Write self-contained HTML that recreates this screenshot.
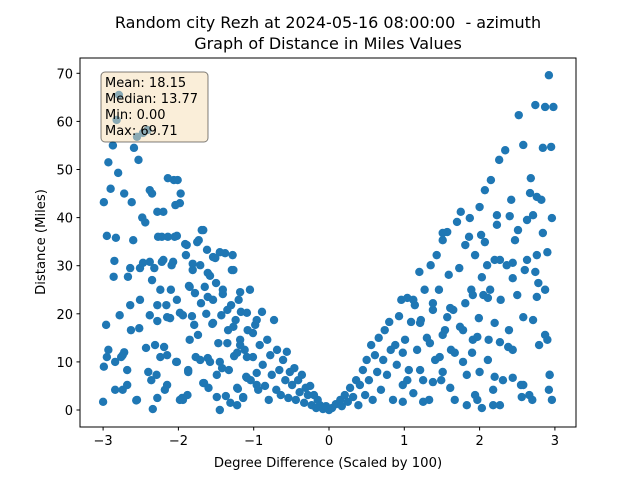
<!DOCTYPE html>
<html><head><meta charset="utf-8"><style>
html,body{margin:0;padding:0;background:#fff;}
svg text{font-family:"DejaVu Sans","Liberation Sans",sans-serif;}
</style></head><body>
<svg id="chart" width="640" height="480" viewBox="0 0 640 480" xmlns="http://www.w3.org/2000/svg">
<rect width="640" height="480" fill="#fff"/>
<text x="328" y="28" font-size="16" text-anchor="middle" xml:space="preserve">Random city Rezh at 2024-05-16 08:00:00  - azimuth</text>
<text x="328" y="49" font-size="16" text-anchor="middle">Graph of Distance in Miles Values</text>
<g id="marks"></g>
<rect x="80" y="58" width="496" height="369" fill="none" stroke="#000" stroke-width="1"/>
<g id="xticks"></g>
<g id="yticks"></g>
<text x="328" y="467" font-size="13.2" text-anchor="middle">Degree Difference (Scaled by 100)</text>
<text transform="translate(45,242) rotate(-90)" font-size="13.2" text-anchor="middle">Distance (Miles)</text>
<g>
<rect x="101" y="72" width="107" height="70" rx="4" fill="#f5deb3" fill-opacity="0.5" stroke="#000" stroke-opacity="0.5"/>
<text x="105" y="87" font-size="13">Mean: 18.15</text>
<text x="105" y="103" font-size="13">Median: 13.77</text>
<text x="105" y="119" font-size="13">Min: 0.00</text>
<text x="105" y="135" font-size="13">Max: 69.71</text>
</g>
</svg>
<script>
const xValues=[-3.0,-2.99,-2.96,-2.95,-2.99,-2.93,-2.9,-2.87,-2.86,-2.85,-2.83,-2.82,-2.79,-2.8,-2.78,-2.76,-2.72,-2.72,-2.67,-2.64,-2.63,-2.62,-2.59,-2.56,-2.55,-2.52,-2.51,-2.48,-2.47,-2.44,-2.43,-2.4,-2.38,-2.35,-2.34,-2.32,-2.31,-2.28,-2.27,-2.24,-2.22,-2.2,-2.19,-2.16,-2.14,-2.11,-2.09,-2.06,-2.03,-2.02,-2.01,-1.98,-1.97,-1.94,-1.91,-1.9,-1.87,-1.86,-1.85,-1.82,-1.81,-1.78,-1.77,-1.74,-1.71,-1.7,-1.67,-1.66,-1.63,-1.61,-1.58,-1.55,-1.54,-1.51,-1.49,-1.47,-1.45,-1.43,-1.41,-1.38,-1.37,-1.34,-1.33,-1.3,-1.29,-1.26,-1.24,-1.21,-1.18,-1.17,-1.14,-1.12,-1.1,-1.08,-1.05,-1.04,-1.01,-0.98,-0.96,-0.94,-0.92,-0.89,-0.88,-0.85,-0.82,-0.8,-0.78,-0.76,-0.73,-0.7,-0.69,-0.66,-0.64,-0.61,-0.58,-0.56,-0.54,-0.52,-0.49,-0.46,-0.44,-0.41,-0.39,-0.36,-0.33,-0.31,-0.28,-0.25,-0.23,-0.2,-0.17,-0.15,-0.12,-0.08,-0.04,0,
0.04,0.09,0.15,0.17,0.21,0.25,0.28,0.32,0.36,0.39,0.41,0.45,0.48,0.5,0.53,0.56,0.58,0.61,0.64,0.66,0.69,0.72,0.74,0.77,0.8,0.82,0.85,0.88,0.9,0.93,0.96,0.98,1.01,1.04,1.06,1.09,1.12,1.14,1.17,1.2,1.22,1.25,1.27,1.3,1.33,1.35,1.38,1.41,1.43,1.46,1.49,1.51,1.54,1.57,1.59,1.62,1.65,1.67,1.7,1.73,1.75,1.78,1.81,1.83,1.86,1.89,1.91,1.94,1.97,1.99,2.02,2.05,2.07,2.1,2.12,2.15,2.18,2.2,2.23,2.26,2.28,2.31,2.34,2.36,2.39,2.42,2.44,2.47,2.5,2.52,2.55,2.58,2.6,2.63,2.66,2.68,2.71,2.74,2.76,2.79,2.82,2.84,2.87,2.87,2.9,2.92,2.92,2.95,2.96,2.96,2.98,2.93,
-2.93,-2.84,-2.74,-2.68,-2.6,-2.53,-2.41,-2.36,-2.29,-2.18,-2.15,-2.1,-2.04,-1.95,-1.88,-1.79,-1.73,-1.62,-1.6,-1.5,-1.42,-1.35,-1.28,-1.22,-1.2,
1.51,1.87,2.0,2.23,2.4,2.51,2.71,2.76,2.67,2.84,2.07,2.27,2.44,2.63,2.9,2.03,2.44,2.74,2.78,2.14,1.91,1.61,1.38,1.12,1.21,1.57,1.81,2.11,2.2,2.58,2.76,1.74,1.51,1.97,2.27,2.38,2.87,1.34,1.67,1.9,2.11,1.47,1.78,0.98,2.0,2.2,2.44,2.58,2.93,1.61,1.38,2.18,2.56,2.7,1.94,1.83,2.03,2.27,1.25,0.98,1.21,1.51,1.04,
-2.14,-2.38,-1.98,-2.28,-2.22,-2.05,-1.89,-1.75,-1.69,-1.45,-1.54,-1.27,-1.81,-1.61,-2.07,-2.2,-2.47,-2.35,-1.85,-1.65,-1.41,-1.18,-1.61,-2.02,-2.51,-2.28,-2.64,-2.38,-2.15,-1.98,-1.54,-1.27,-1.09,-0.96,-1.01,-1.35,-1.18,-1.71,-1.58,-1.22,-1.09,-2.74,-2.95,-2.68,-2.24,-2.02,-1.87,-1.49,-1.09,-0.96,-1.67,-1.22,-2.84,-2.15,-2.55,-2.28,-1.94,-1.45,-1.31,-1.14];
const yValues=[1.7,9,17.7,36.2,43.2,51.5,46,55,27.7,31,35.8,60.3,65.5,49.3,19.7,11,45,12,27.7,29.5,16.6,43.2,54.5,2,56.8,17,29.5,40,57.6,39,12.9,7.9,30.8,45,0.2,29.5,13.5,18.5,36,25,30.8,41.2,13.1,21.8,36,19.1,30.1,47.8,10,36.2,47.8,2.1,45,19.7,34.5,32.2,8.3,25.8,14.6,19.5,30.4,24.3,11,15.6,30.1,22.2,37.4,5.6,20,10.8,27.9,17.9,22.9,31.6,2.7,13.9,10,19.7,24.1,32.6,2.9,16.6,8.3,21.8,29.1,11.2,18.7,4.4,14.6,20.4,2.5,12.5,6.9,16.6,25,6.2,11,17.7,7.7,4.2,13.5,20.4,9.4,5,14.6,2.1,11.4,7.3,18.7,4.2,12.5,8.3,3.1,10.4,6.2,12.1,2.5,7.9,5.2,8.7,2.1,6.2,3.7,7.3,1.5,4.6,3.1,5,1,3.1,0.4,2.1,1,0.2,0.8,0,
0.4,1.2,2.1,0.8,3.1,1.7,4.6,2.7,6.2,1,5.2,8.3,3.1,10.4,6.2,13.5,2.1,11.4,7.9,15,4.2,10.4,16.6,7.3,18.3,12.5,2.1,13.5,9.4,19.5,22.9,5.2,14.6,23.3,8.3,18.3,3.5,21.8,12.5,28.7,18.7,6.2,25,15,2.1,30.1,20.8,10.4,32.2,25,6.2,35.3,16.6,37,28.1,12.5,20.8,2.1,39.1,29.5,41.2,16.6,34.3,7.3,36,25,14.6,32.2,2.1,19.1,36.4,23.9,45.7,30.1,14.6,47.8,1,31.2,40.5,52,22.9,6.2,54,30.1,16.6,43.7,12.5,35.3,23.9,61.3,5.2,55.1,29.1,39.5,3.1,48.2,18.7,63.4,32.2,13.5,43.7,54.5,63,25,14.6,69.6,4.2,54.7,39.9,2.1,63,7.3,
12.5,10,4.2,5.2,35.3,52,58.2,6.2,7.3,4.2,11.4,25,42.6,2.5,3.1,17.7,35.3,33.3,4.6,26.4,8.7,20.8,32.2,1,22.9,
36.8,39.9,42.2,38.5,40.3,37.4,40.5,44.3,45.1,36.8,34.9,31.2,30.6,31.2,32.8,27.6,27.4,28.7,26.4,25,23.9,21.2,22.2,22.9,18.1,19.3,22.2,23.3,18.1,19.3,23.5,17.3,15.6,15.2,14.1,13.1,15.6,13.9,11.9,11.9,10.4,11,10,11.9,7.9,6.9,6.7,5.2,7.3,4.6,5.8,4.2,2.7,2.1,3.1,1,0.4,1,1.7,1.7,8.3,7.9,6.2,
48.2,45.7,43,41.2,36,36,34.3,34.9,37.4,32.8,31.8,29.1,29.1,28.5,30.8,31.2,30.6,27,25.6,25.6,25,24.5,23.5,22.9,22.9,21.8,21.8,19.7,19.3,20.2,18.1,17.3,20.2,18.7,16,13.9,13.5,10.4,10,11.9,11,11.4,11,8.3,11,10,7.9,7.3,6.7,5.2,5.6,4.6,4.2,5.2,2.1,2.5,2.1,0,1.5,2.7];
const xTickLabels=["−3","−2","−1","0","1","2","3"];
const xTickValues=[-3,-2,-1,0,1,2,3];
const yTickValues=[0,10,20,30,40,50,60,70];
const NS="http://www.w3.org/2000/svg";
function sx(v){return 329+v*75.3;}
function sy(v){return 410-v*4.81;}
const marks=document.getElementById('marks');
for(let i=0;i<xValues.length;i++){
  const c=document.createElementNS(NS,'circle');
  c.setAttribute('cx',sx(xValues[i]));c.setAttribute('cy',sy(yValues[i]));
  c.setAttribute('r',4.2);c.setAttribute('fill','#1f77b4');
  
  
  marks.appendChild(c);
}
const xg=document.getElementById('xticks');
xTickValues.forEach((v,i)=>{
  const l=document.createElementNS(NS,'line');
  l.setAttribute('x1',sx(v));l.setAttribute('x2',sx(v));l.setAttribute('y1',427);l.setAttribute('y2',430.5);l.setAttribute('stroke','#000');
  
  
  xg.appendChild(l);
  const t=document.createElementNS(NS,'text');
  t.setAttribute('x',sx(v));t.setAttribute('y',445);t.setAttribute('font-size','13');t.setAttribute('text-anchor','middle');
  t.textContent=xTickLabels[i];
  
  
  xg.appendChild(t);
});
const yg=document.getElementById('yticks');
yTickValues.forEach(v=>{
  const l=document.createElementNS(NS,'line');
  l.setAttribute('x1',76.5);l.setAttribute('x2',80);l.setAttribute('y1',sy(v));l.setAttribute('y2',sy(v));l.setAttribute('stroke','#000');
  
  
  yg.appendChild(l);
  const t=document.createElementNS(NS,'text');
  t.setAttribute('x',73);t.setAttribute('y',sy(v)+5);t.setAttribute('font-size','13');t.setAttribute('text-anchor','end');
  t.textContent=String(v);
  
  
  yg.appendChild(t);
});
</script>
</body></html>
